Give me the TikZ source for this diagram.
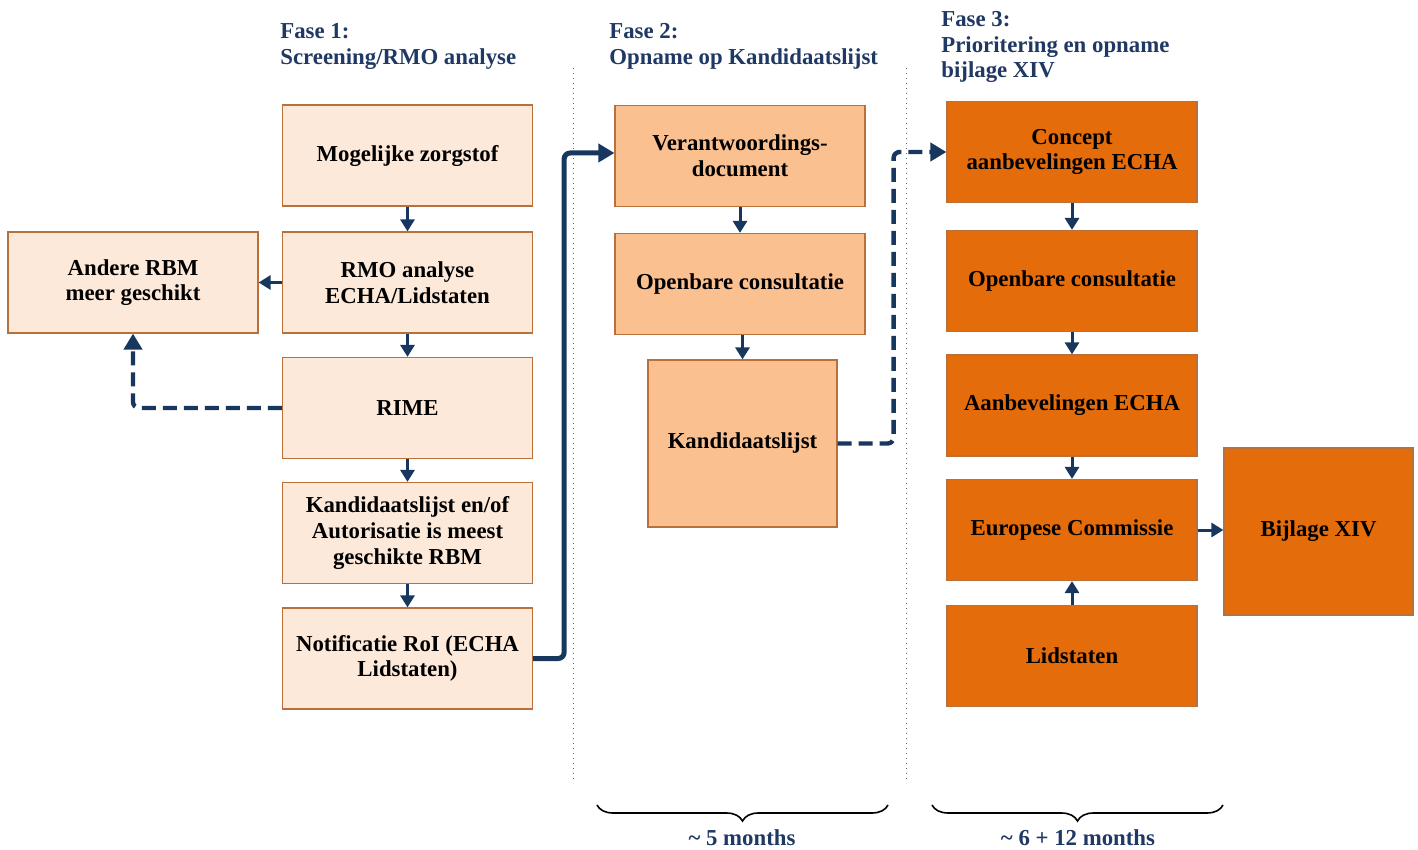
\documentclass[tikz,border=0pt]{standalone}
\usepackage{fontspec}
\setmainfont{Liberation Serif}
\usetikzlibrary{arrows.meta,decorations.pathreplacing}
\definecolor{navy}{HTML}{17375E}
\definecolor{kopblauw}{HTML}{1F3864}
\definecolor{licht}{HTML}{FDE9D9}
\definecolor{midden}{HTML}{FAC090}
\definecolor{donker}{HTML}{E46C0A}
\definecolor{rand}{HTML}{B9703A}

\begin{document}
\begin{tikzpicture}[x=0.5pt,y=-0.5pt,
    box/.style={draw=rand, line width=0.6pt, minimum width=125pt, minimum height=50.5pt,
      align=center, inner sep=2pt, font=\bfseries\fontsize{11.4}{12.8}\selectfont},
    fase1box/.style={box, fill=licht},
    fase2box/.style={box, fill=midden},
    fase3box/.style={box, fill=donker},
    grootbox/.style={minimum width=94.5pt, minimum height=83.5pt},
    kop/.style={align=left, anchor=north west, inner sep=0pt, text=kopblauw,
      font=\bfseries\fontsize{11.4}{12.8}\selectfont},
    duur/.style={text=kopblauw, font=\bfseries\fontsize{11.4}{12.8}\selectfont},
    pijl/.style={navy, line width=1.5pt, -{Triangle[length=6pt,width=7pt]}},
    lijnpijl/.style={navy, line width=2.5pt, rounded corners=3pt, -{Triangle[length=8pt,width=9pt]}},
    streeppijl/.style={lijnpijl, line width=2.2pt, dash pattern=on 7pt off 3.5pt},
    fasegrens/.style={gray!80!black, line width=0.5pt, dotted},
    haak/.style={decorate, decoration={brace, mirror, amplitude=8pt}, line width=0.8pt}]

	\useasboundingbox (0,0) rectangle (1418,850);

	% koppen
	\node[kop] (kop1) at (280,23) {Fase 1:\\Screening/RMO analyse};
	\node[kop] (kop2) at (609,23) {Fase 2:\\Opname op Kandidaatslijst};
	\node[kop] (kop3) at (941,11) {Fase 3:\\Prioritering en opname\\bijlage XIV};

	% fasegrenzen
	\draw[fasegrens] (573,68) -- (573,783);
	\draw[fasegrens] (906,68) -- (906,783);

	% fase 1
	\node[fase1box] (zorgstof) at (407.5,155.5) {Mogelijke zorgstof};
	\node[fase1box] (rmo) at (407.5,282.5) {RMO analyse\\ECHA/Lidstaten};
	\node[fase1box] (rime) at (407.5,408) {RIME};
	\node[fase1box] (meestgeschikt) at (407.5,533) {Kandidaatslijst en/of\\Autorisatie is meest\\geschikte RBM};
	\node[fase1box] (notificatie) at (407.5,658.5) {Notificatie RoI (ECHA\\Lidstaten)};
	\node[fase1box] (andere) at (133,282.5) {Andere RBM\\meer geschikt};

	% fase 2
	\node[fase2box] (verantwoording) at (740,156) {Verantwoordings-\\document};
	\node[fase2box] (consultatie2) at (740,284) {Openbare consultatie};
	\node[fase2box, grootbox] (kandidaatslijst) at (742.5,443.5) {Kandidaatslijst};

	% fase 3
	\node[fase3box] (concept) at (1072,152) {Concept\\aanbevelingen ECHA};
	\node[fase3box] (consultatie3) at (1072,281) {Openbare consultatie};
	\node[fase3box] (aanbevelingen) at (1072,405.5) {Aanbevelingen ECHA};
	\node[fase3box] (commissie) at (1072,530) {Europese Commissie};
	\node[fase3box] (lidstaten) at (1072,656) {Lidstaten};
	\node[fase3box, grootbox] (bijlage) at (1318.5,531.5) {Bijlage XIV};

	% pijlen
	\draw[pijl] (zorgstof) -- (rmo);
	\draw[pijl] (rmo) -- (rime);
	\draw[pijl] (rime) -- (meestgeschikt);
	\draw[pijl] (meestgeschikt) -- (notificatie);
	\draw[pijl] (rmo) -- (andere);
	\draw[streeppijl] (rime.west) -| (andere.south);
	\draw[lijnpijl] (notificatie.east) -- ++(31,0) |- ([yshift=1.5pt]verantwoording.west);

	\draw[pijl] (verantwoording) -- (consultatie2);
	\draw[pijl] (consultatie2.south -| kandidaatslijst) -- (kandidaatslijst);
	\draw[streeppijl] (kandidaatslijst.east) -- ++(56,0) |- (concept.west);

	\draw[pijl] (concept) -- (consultatie3);
	\draw[pijl] (consultatie3) -- (aanbevelingen);
	\draw[pijl] (aanbevelingen) -- (commissie);
	\draw[pijl] (lidstaten) -- (commissie);
	\draw[pijl] (commissie.east) -- (commissie.east -| bijlage.west);

	% doorlooptijden
	\draw[haak] (597,805) -- (888,805);
	\draw[haak] (932,805) -- (1223,805);
	\node[duur] (duur2) at (742,838) {\textasciitilde{} 5 months};
	\node[duur] (duur3) at (1078,838) {\textasciitilde{} 6 + 12 months};
\end{tikzpicture}
\end{document}
